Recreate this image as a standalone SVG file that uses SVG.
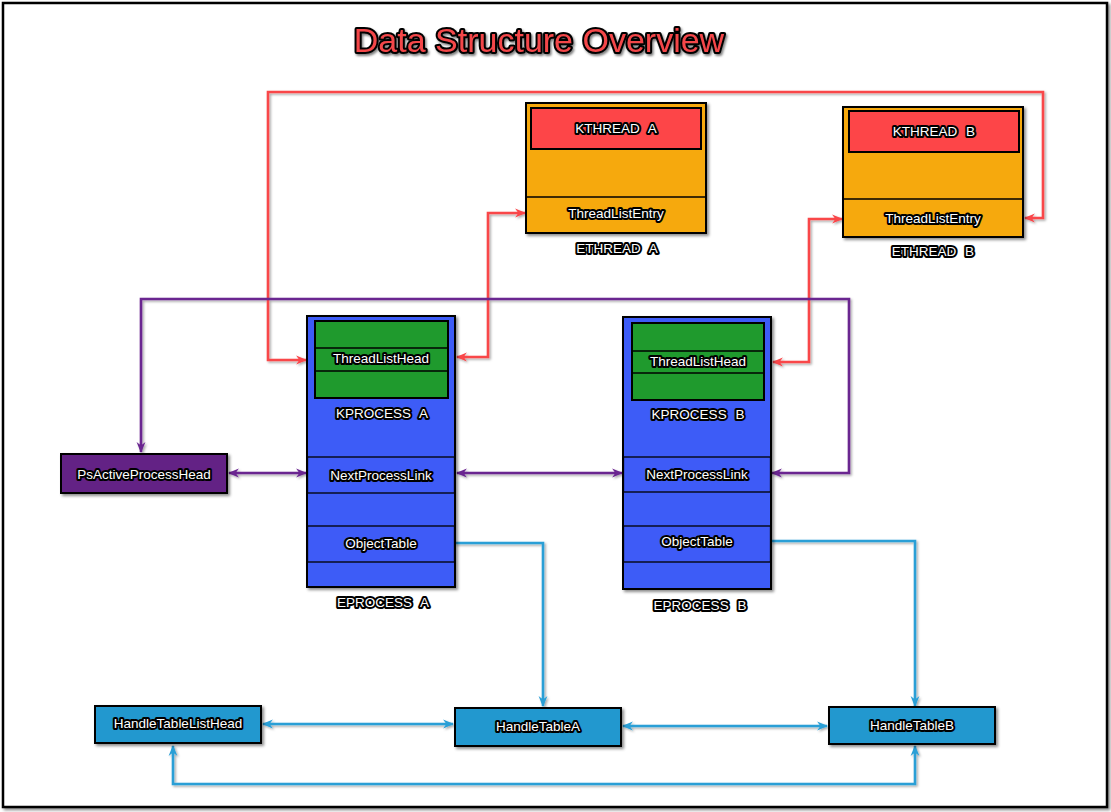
<svg xmlns="http://www.w3.org/2000/svg" width="1111" height="812" viewBox="0 0 1111 812">
<style>
.t{font-family:"Liberation Sans",Arial,sans-serif;font-size:13.5px;fill:#fff;stroke:#000;stroke-width:4px;stroke-linejoin:round;paint-order:stroke;text-anchor:middle;dominant-baseline:central;word-spacing:5px}
.title{font-family:"Liberation Sans",Arial,sans-serif;font-size:34px;fill:#f4474a;stroke:#000;stroke-width:4px;stroke-linejoin:round;paint-order:stroke;text-anchor:middle}
.box{stroke:#000;stroke-width:2}
.ln{stroke:#000;stroke-width:1.3}
.org{fill:#f6a90d}.red{fill:#fd4548}.blu{fill:#3e5bf7}.grn{fill:#1f9a2d}.pur{fill:#642185}.ht{fill:#2298cf}
.c{fill:none;stroke-width:2.6;stroke-linejoin:miter}
.cr{stroke:#f9464a}.cp{stroke:#6a2590}.cb{stroke:#2a9fd6}
</style>
<defs>
<filter id="sh" x="-10%" y="-10%" width="130%" height="130%"><feDropShadow dx="2" dy="2" stdDeviation="1.5" flood-color="#000" flood-opacity="0.45"/></filter>
<filter id="csh" filterUnits="userSpaceOnUse" x="0" y="0" width="1111" height="812"><feDropShadow dx="1.5" dy="1.5" stdDeviation="1.2" flood-color="#000" flood-opacity="0.35"/></filter>
<filter id="tsh" x="-10%" y="-20%" width="130%" height="160%"><feDropShadow dx="1.5" dy="2" stdDeviation="1.2" flood-color="#000" flood-opacity="0.5"/></filter>
<marker id="ar" viewBox="0 0 10 10" refX="9" refY="5" markerWidth="11" markerHeight="11" markerUnits="userSpaceOnUse" orient="auto-start-reverse"><path d="M0,1 L10,5 L0,9 L3,5 z" fill="#f9464a"/></marker>
<marker id="ap" viewBox="0 0 10 10" refX="9" refY="5" markerWidth="11" markerHeight="11" markerUnits="userSpaceOnUse" orient="auto-start-reverse"><path d="M0,1 L10,5 L0,9 L3,5 z" fill="#6a2590"/></marker>
<marker id="ab" viewBox="0 0 10 10" refX="9" refY="5" markerWidth="11" markerHeight="11" markerUnits="userSpaceOnUse" orient="auto-start-reverse"><path d="M0,1 L10,5 L0,9 L3,5 z" fill="#2a9fd6"/></marker>
</defs>
<rect x="0" y="0" width="1111" height="812" fill="#fff"/>
<rect x="3" y="3" width="1104" height="804" fill="#fff" stroke="#000" stroke-width="2.5" filter="url(#sh)"/>
<text class="title" x="539" y="52" filter="url(#tsh)">Data Structure Overview</text>

<g id="connectors" filter="url(#csh)">
<path class="c cr" d="M306,360 H268 V92 H1043 V218 H1025" marker-start="url(#ar)" marker-end="url(#ar)"/>
<path class="c cr" d="M457,357 H488 V213 H525" marker-start="url(#ar)" marker-end="url(#ar)"/>
<path class="c cr" d="M773,362 H809 V219 H842" marker-start="url(#ar)" marker-end="url(#ar)"/>
<path class="c cp" d="M141,452 V299 H849 V473 H772" marker-start="url(#ap)" marker-end="url(#ap)"/>
<path class="c cp" d="M229,473 H306" marker-start="url(#ap)" marker-end="url(#ap)"/>
<path class="c cp" d="M457,473 H622" marker-start="url(#ap)" marker-end="url(#ap)"/>
<path class="c cb" d="M455,543 H543 V706" marker-end="url(#ab)"/>
<path class="c cb" d="M771,541 H915 V706" marker-end="url(#ab)"/>
<path class="c cb" d="M263,724 H453" marker-start="url(#ab)" marker-end="url(#ab)"/>
<path class="c cb" d="M623,726 H827" marker-start="url(#ab)" marker-end="url(#ab)"/>
<path class="c cb" d="M173,746 V784 H915 V746" marker-start="url(#ab)" marker-end="url(#ab)"/>
</g>

<g id="ethreadA">
<rect class="box org" x="526" y="103" width="180" height="130" filter="url(#sh)"/>
<rect class="box red" x="531" y="108" width="170" height="41" stroke-width="1.3"/>
<line class="ln" x1="526" y1="197" x2="706" y2="197"/>
<text class="t" x="616" y="128">KTHREAD A</text>
<text class="t" x="616" y="213">ThreadListEntry</text>
<text class="t" x="617" y="248">ETHREAD A</text>
</g>

<g id="ethreadB">
<rect class="box org" x="843" y="107" width="180" height="130" filter="url(#sh)"/>
<rect class="box red" x="849" y="111" width="170" height="41" stroke-width="1.3"/>
<line class="ln" x1="843" y1="199" x2="1023" y2="199"/>
<text class="t" x="934" y="131">KTHREAD B</text>
<text class="t" x="933" y="218">ThreadListEntry</text>
<text class="t" x="933" y="251">ETHREAD B</text>
</g>

<g id="eprocessA">
<rect class="box blu" x="307" y="316" width="148" height="271" filter="url(#sh)"/>
<rect class="box grn" x="315" y="321" width="133" height="77" stroke-width="1.3"/>
<line class="ln" x1="315" y1="348" x2="448" y2="348"/>
<line class="ln" x1="315" y1="371" x2="448" y2="371"/>
<rect class="blu" x="307.5" y="457" width="147" height="36" stroke="#000" stroke-width="1.3"/>
<rect class="blu" x="307.5" y="526" width="147" height="36" stroke="#000" stroke-width="1.3"/>
<text class="t" x="381" y="358">ThreadListHead</text>
<text class="t" x="382" y="413">KPROCESS A</text>
<text class="t" x="381" y="475">NextProcessLink</text>
<text class="t" x="381" y="543">ObjectTable</text>
<text class="t" x="383" y="602">EPROCESS A</text>
</g>

<g id="eprocessB">
<rect class="box blu" x="623" y="317" width="148" height="272" filter="url(#sh)"/>
<rect class="box grn" x="632" y="323" width="132" height="77" stroke-width="1.3"/>
<line class="ln" x1="632" y1="351" x2="764" y2="351"/>
<line class="ln" x1="632" y1="373" x2="764" y2="373"/>
<rect class="blu" x="623.5" y="457" width="147" height="35" stroke="#000" stroke-width="1.3"/>
<rect class="blu" x="623.5" y="526" width="147" height="36" stroke="#000" stroke-width="1.3"/>
<text class="t" x="698" y="361">ThreadListHead</text>
<text class="t" x="698" y="414">KPROCESS B</text>
<text class="t" x="697" y="474">NextProcessLink</text>
<text class="t" x="697" y="541">ObjectTable</text>
<text class="t" x="700" y="605">EPROCESS B</text>
</g>

<g id="psActiveProcessHead">
<rect class="box pur" x="61" y="454" width="166" height="39" filter="url(#sh)"/>
<text class="t" x="144" y="474">PsActiveProcessHead</text>
</g>

<g id="handleTableListHead">
<rect class="box ht" x="95" y="706" width="166" height="37" filter="url(#sh)"/>
<text class="t" x="178" y="723">HandleTableListHead</text>
</g>

<g id="handleTableA">
<rect class="box ht" x="455" y="708" width="166" height="38" filter="url(#sh)"/>
<text class="t" x="538" y="726">HandleTableA</text>
</g>

<g id="handleTableB">
<rect class="box ht" x="829" y="707" width="166" height="37" filter="url(#sh)"/>
<text class="t" x="912" y="725">HandleTableB</text>
</g>
</svg>
